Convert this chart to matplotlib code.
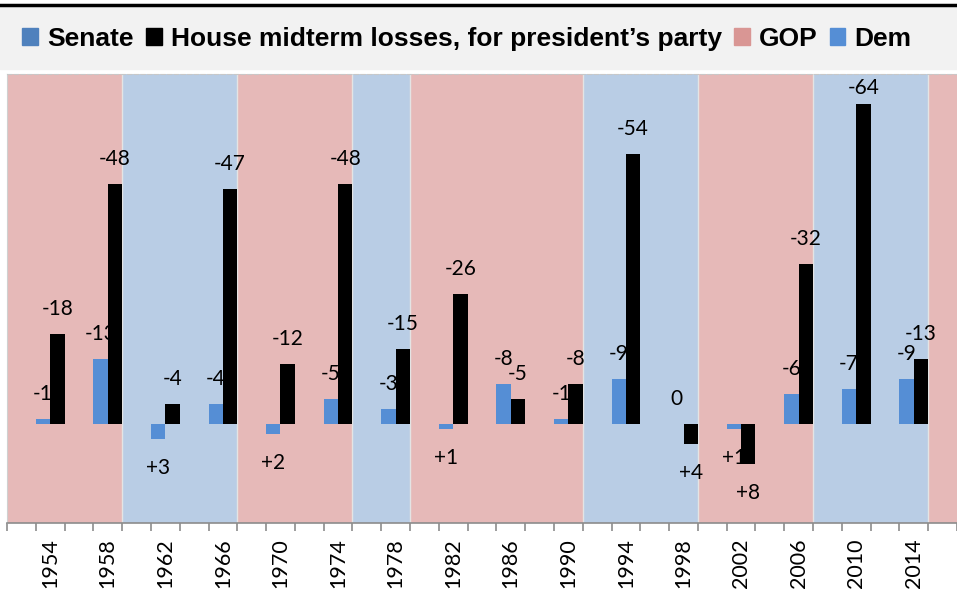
import matplotlib.pyplot as plt
from matplotlib.patches import Patch

# midterm years and seat changes for the president's party
years = [1954, 1958, 1962, 1966, 1970, 1974, 1978, 1982,
         1986, 1990, 1994, 1998, 2002, 2006, 2010, 2014]
senate = [-1, -13, 3, -4, 2, -5, -3, 1, -8, -1, -9, 0, 1, -6, -7, -9]
house = [-18, -48, -4, -47, -12, -48, -15, -26, -5, -8, -54, 4, 8, -32, -64, -13]

# party holding the presidency, one entry per two-year slot 1952..2016
slot_years = list(range(1952, 2018, 2))
party = (['R'] * 4 + ['D'] * 4 + ['R'] * 4 + ['D'] * 2 + ['R'] * 6
         + ['D'] * 4 + ['R'] * 4 + ['D'] * 4 + ['R'] * 1)

gop_bg = '#E6B9B8'
dem_bg = '#B9CDE5'
senate_col = '#558ED5'
house_col = '#000000'

ymin, ymax = -19.8, 70

fig = plt.figure(figsize=(9.57, 5.89), dpi=100)
W, H = 957, 589

# header band with the legend
fig.patches.append(plt.Rectangle((0, 1 - 69 / H), 1, 62 / H, transform=fig.transFigure,
                                 color='#F2F2F2', zorder=0))
fig.lines.append(plt.Line2D([0, 1], [1 - 5 / H, 1 - 5 / H], transform=fig.transFigure,
                            color='black', lw=2.5))

ax_h = 523 - 74
ax = fig.add_axes([7 / W, (H - 523) / H, 1 - 7 / W, ax_h / H])

idx = [(y - 1952) / 2 for y in years]
slots = range(len(slot_years))

# background shading by president's party
ax.bar(slots, [ymax - ymin] * len(slot_years), bottom=ymin, width=1.0,
       color=[gop_bg if p == 'R' else dem_bg for p in party],
       linewidth=0, zorder=0)
# faint seam where the party changes
for k in range(1, len(party)):
    if party[k] != party[k - 1]:
        ax.axvline(k - 0.5, color='#E4E4E4', lw=1, zorder=1)

s_losses = [-v for v in senate]
h_losses = [-v for v in house]
sb = ax.bar([i - 0.25 for i in idx], s_losses, width=0.5, color=senate_col,
            linewidth=0, zorder=2)
hb = ax.bar([i + 0.25 for i in idx], h_losses, width=0.5, color=house_col,
            linewidth=0, zorder=4)


def lab(v):
    if v > 0:
        return '+%d' % v
    if v < 0:
        return '-%d' % -v
    return '0'


# points per data unit, used to keep labels inside the plot area
pt_per_unit = ax_h / (ymax - ymin) * 0.72
for vals, off, z in [(senate, -0.25, 3), (house, 0.25, 5)]:
    for i, v in zip(idx, vals):
        if v <= 0:
            dy = min(18, (ymax + v) * pt_per_unit - 10)
        else:
            dy = -21
        ax.annotate(lab(v), (i + off, -v), xytext=(0, dy), textcoords='offset points',
                    ha='center', va='center', fontsize=15, family='Lato', zorder=z)

ax.set_xlim(-0.5, len(slot_years) - 0.5)
ax.set_ylim(ymin, ymax)

# ticks on slot boundaries, labels on midterm years
ax.set_xticks([k - 0.5 for k in range(len(slot_years) + 1)])
ax.set_xticklabels([])
ax.tick_params(axis='x', which='major', length=6, width=1.2, color='#8C8C8C')
ax.set_xticks(idx, minor=True)
ax.set_xticklabels([str(y) for y in years], minor=True, rotation=90,
                   fontsize=15.5, family='Lato')
ax.tick_params(axis='x', which='minor', length=0, pad=11)
ax.set_yticks([])

ax.spines['bottom'].set_color('#8C8C8C')
ax.spines['bottom'].set_linewidth(1.2)
ax.spines['left'].set_color('#D0D0D0')
ax.spines['right'].set_visible(False)
ax.spines['top'].set_color('#C8C8C8')
ax.spines['top'].set_linestyle((0, (4, 2)))

handles = [Patch(color='#4F81BD'), Patch(color='black'),
           Patch(color='#D99694'), Patch(color=senate_col)]
labels = ['Senate', 'House midterm losses, for president\u2019s party', 'GOP', 'Dem']
fig.legend(handles, labels, loc='center', bbox_to_anchor=(467 / W, 1 - 39 / H), ncol=4,
           frameon=False, handlelength=0.6, handleheight=0.6, handletextpad=0.35,
           columnspacing=0.45, prop={'family': 'Liberation Sans', 'weight': 'bold',
                                     'size': 19})

fig.savefig('out.png', dpi=100)
